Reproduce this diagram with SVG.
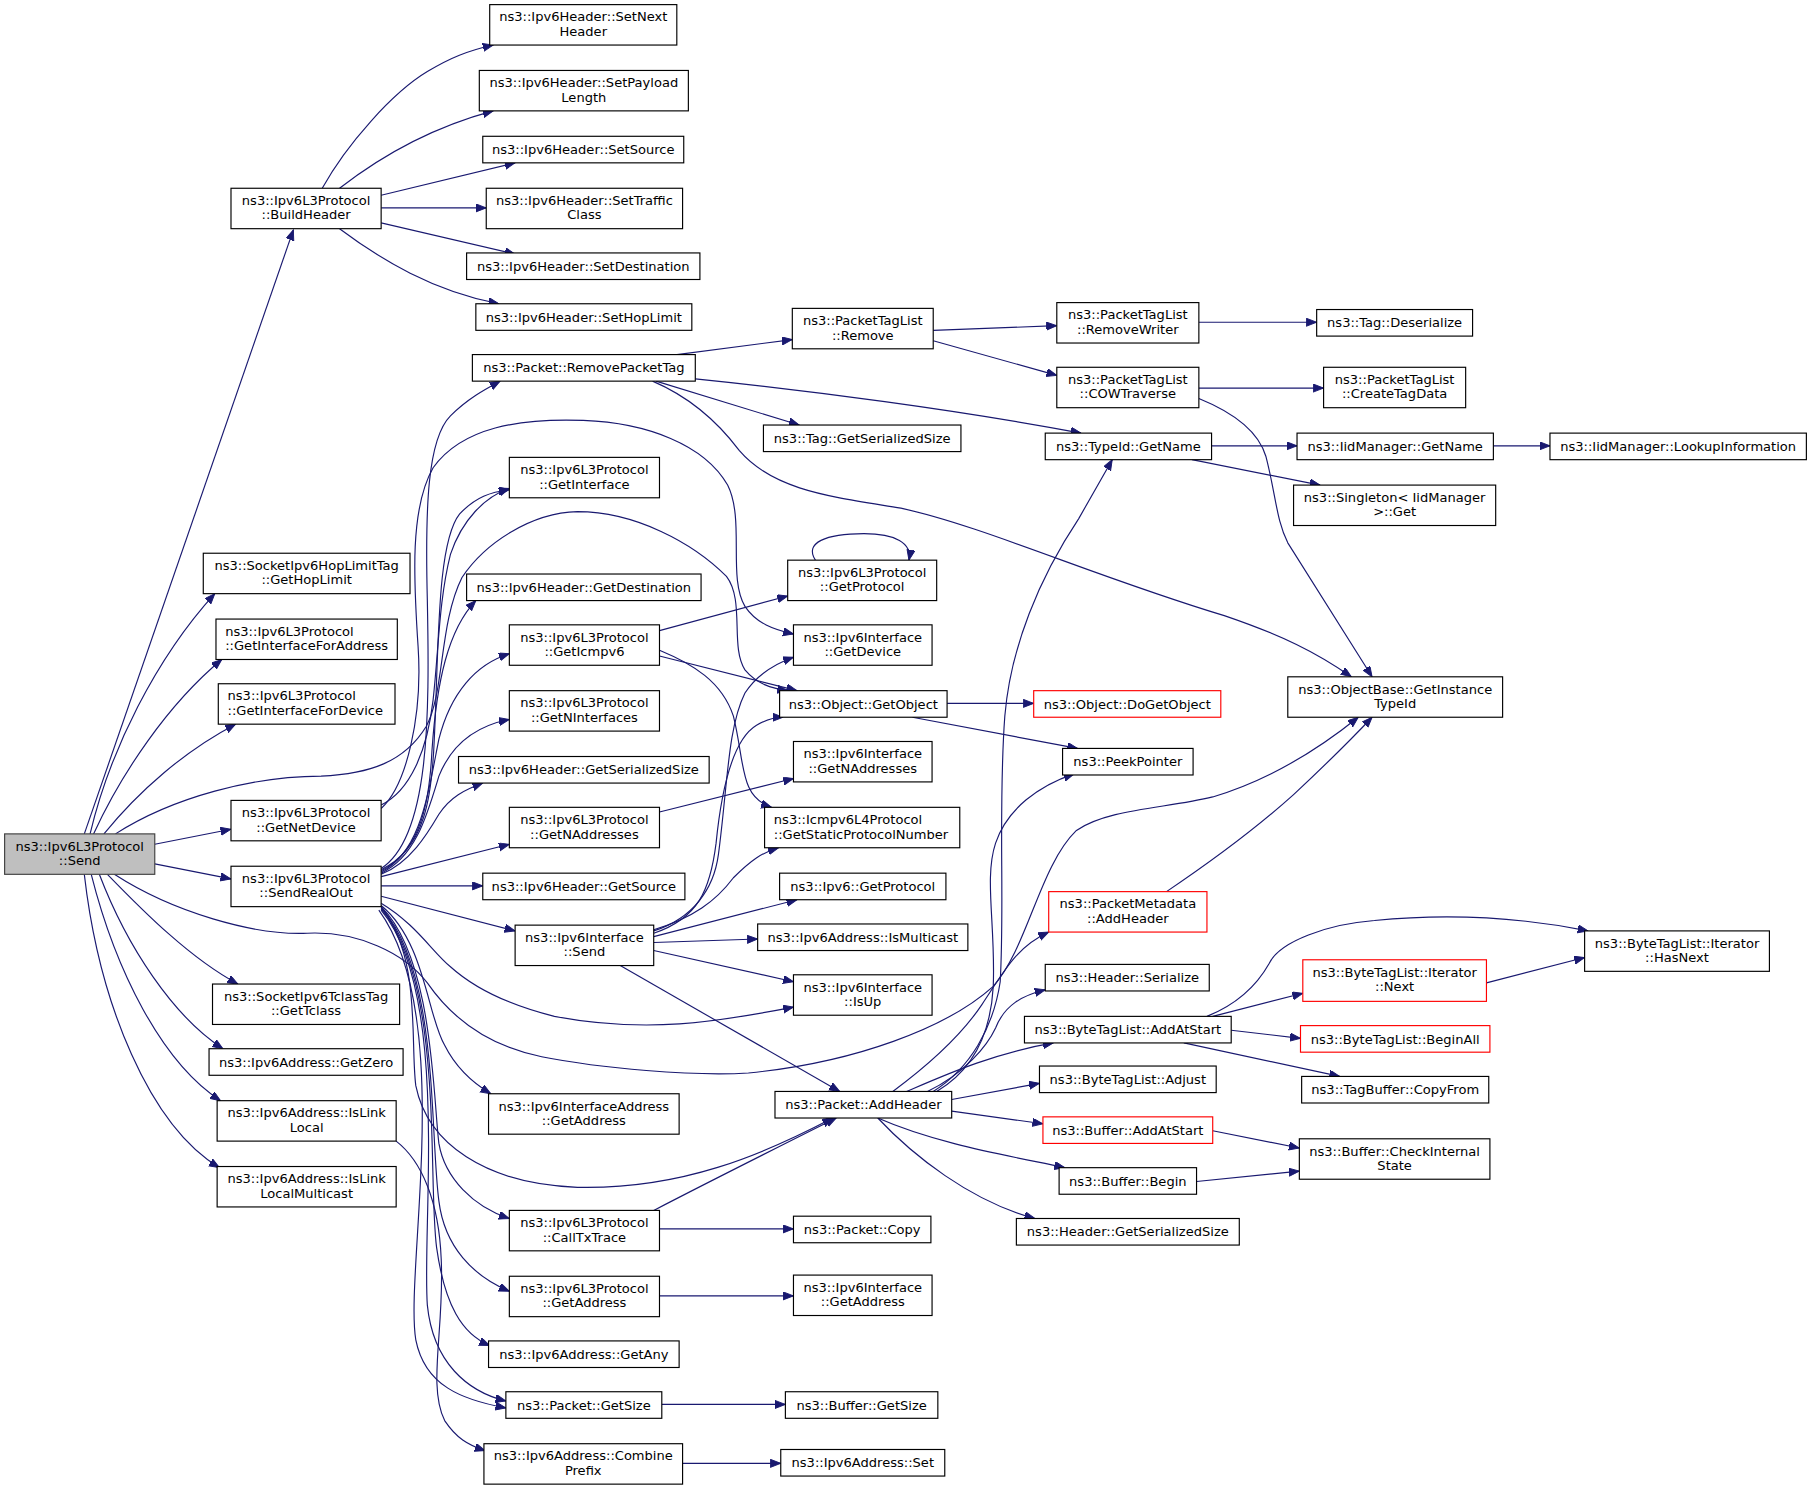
<svg xmlns="http://www.w3.org/2000/svg" width="1811" height="1489" viewBox="0 0 1811 1489">
<style>
.node rect{fill:#fff;stroke:#000;stroke-width:1}
.node rect.root{fill:#bfbfbf;stroke:#404040}
.node rect.red{stroke:#ff0000}
.node text{font-family:"DejaVu Sans","Liberation Sans",sans-serif;font-size:11.3px;fill:#000;text-anchor:middle}
.node text.l{text-anchor:start}
.edges path{fill:none;stroke:#191970;stroke-width:1;marker-end:url(#a)}
</style>
<defs>
<marker id="a" markerWidth="10" markerHeight="8" refX="9" refY="3.5" orient="auto" markerUnits="userSpaceOnUse">
<path d="M0,0 L9,3.5 L0,7 z" fill="#191970" stroke="#191970" stroke-width="0.8"/>
</marker>
</defs>
<rect x="0" y="0" width="1811" height="1489" fill="#fff"/>
<g transform="scale(1.15497)">
<g id="edges" class="edges">
<path d="M73,722 L254,199"/>
<path d="M279,163 C300,125 340,80 370,62 C390,50 405,44 427,39"/>
<path d="M294,163 C330,135 375,110 427,96"/>
<path d="M330,169 L446,141"/>
<path d="M330,180 L421,180"/>
<path d="M330,193 L446,220"/>
<path d="M294,198 C330,225 375,252 432,263"/>
<path d="M78,722 C95,650 135,570 186,514"/>
<path d="M81,722 C105,670 145,610 192,571"/>
<path d="M90,722 C120,685 160,650 204,627"/>
<path d="M100,722 C150,690 220,672 278,672 C320,670 350,660 369,629 C385,600 380,540 400,500 C420,470 460,444 500,443 C550,443 600,470 629,499 C645,520 632,560 645,580 C655,592 668,596 682,598"/>
<path d="M134,731 L200,718"/>
<path d="M134,748 L200,761"/>
<path d="M93,757 C125,790 165,830 206,852"/>
<path d="M86,757 C110,820 150,880 193,908"/>
<path d="M79,757 C100,840 140,920 191,953"/>
<path d="M73,757 C86,870 130,975 190,1011"/>
<path d="M99,757 C150,790 220,810 266,808 C310,806 350,825 370,851 C390,880 420,905 469,915 C520,925 600,932 648,929 C740,920 820,890 860,854 C890,820 900,750 932,719 C960,700 1010,700 1050,690 C1100,675 1140,650 1176,621"/>
<path d="M330,697 C355,685 370,650 375,606 C380,560 380,520 390,480 C400,450 420,430 441,423"/>
<path d="M330,700 C352,680 366,620 362,560 C358,500 355,440 375,405 C400,370 450,362 505,364 C560,366 610,385 630,420 C645,450 630,500 645,525 C655,540 670,545 687,549"/>
<path d="M330,752 C372,725 372,620 370,520 C368,440 370,380 390,360 C405,345 420,337 433,330"/>
<path d="M330,753 C368,735 374,690 376,640 C380,560 378,470 398,445 C412,430 425,426 441,424"/>
<path d="M330,754 C366,736 372,690 374,650 C378,590 388,545 412,520"/>
<path d="M330,755 C364,738 370,690 380,640 C390,600 412,575 441,566"/>
<path d="M330,756 C360,742 370,705 380,672 C392,642 415,628 441,623"/>
<path d="M330,757 C355,747 370,722 380,705 C390,690 402,684 418,678"/>
<path d="M330,759 L441,731"/>
<path d="M330,767 L418,767"/>
<path d="M330,776 L446,806"/>
<path d="M330,782 C360,800 375,825 390,837 C410,855 440,870 480,880 C560,895 620,885 687,872"/>
<path d="M330,784 C368,815 370,880 385,905 C395,925 410,938 425,947"/>
<path d="M330,785 C375,830 375,950 380,990 C385,1020 410,1045 441,1055"/>
<path d="M330,786 C380,840 372,980 380,1040 C385,1080 410,1105 441,1118"/>
<path d="M330,787 C385,850 370,1020 378,1080 C385,1130 400,1155 424,1165"/>
<path d="M330,788 C390,860 365,1060 370,1130 C375,1180 405,1205 438,1213"/>
<path d="M328,788 C395,880 350,1100 360,1160 C368,1200 400,1212 438,1219"/>
<path d="M330,785 C365,830 355,900 360,940 C370,990 420,1025 500,1028 C590,1030 660,1000 721,968"/>
<path d="M343,988 C365,1005 380,1040 382,1090 C385,1150 370,1200 385,1230 C395,1245 405,1251 420,1256"/>
<path d="M571,546 L682,516"/>
<path d="M571,568 L690,598"/>
<path d="M571,563 C600,575 625,590 635,620 C645,660 640,690 668,699"/>
<path d="M706,485 C696,470 715,462 748,462 C775,462 790,470 787,485"/>
<path d="M571,703 L687,674"/>
<path d="M566,806 C600,795 618,770 622,740 C630,680 630,630 645,600 C655,585 670,575 687,569"/>
<path d="M566,808 C605,795 615,770 620,730 C625,680 635,640 655,628 C665,622 672,621 678,621"/>
<path d="M566,805 C600,795 620,780 635,760 C650,745 660,738 674,734"/>
<path d="M566,811 L690,779"/>
<path d="M566,816 L656,813"/>
<path d="M566,823 L687,850"/>
<path d="M537,836 L727,945"/>
<path d="M571,1064 L687,1064"/>
<path d="M566,1048 C620,1020 680,990 724,968"/>
<path d="M571,1122 L687,1122"/>
<path d="M573,1216 L680,1216"/>
<path d="M591,1267 L676,1267"/>
<path d="M586,307 L686,294"/>
<path d="M568,330 L692,368"/>
<path d="M602,328 C700,338 830,355 936,375"/>
<path d="M565,330 C600,345 625,370 640,390 C670,425 720,430 780,440 C850,455 950,500 1060,533 C1110,550 1140,565 1170,586"/>
<path d="M808,286 L915,282"/>
<path d="M808,295 L915,325"/>
<path d="M1038,279 L1140,279"/>
<path d="M1038,336 L1146,336"/>
<path d="M1038,345 C1070,358 1090,375 1096,395 C1105,430 1105,450 1115,470 C1140,510 1165,550 1188,586"/>
<path d="M1049,386 L1123,386"/>
<path d="M1032,398 L1143,420"/>
<path d="M1293,386 L1342,386"/>
<path d="M820,609 L895,609"/>
<path d="M790,621 L933,648"/>
<path d="M808,945 C840,925 860,890 866,850 C870,780 864,700 870,620 C875,560 900,500 934,449 L963,398"/>
<path d="M811,945 C845,925 858,890 860,854 C862,800 852,760 862,730 C872,700 900,680 930,670"/>
<path d="M773,945 C800,925 830,900 850,870 C870,840 880,820 908,807"/>
<path d="M803,945 C835,930 855,905 862,890 C870,870 885,862 905,857"/>
<path d="M785,945 C820,930 860,912 912,903"/>
<path d="M824,952 L900,938"/>
<path d="M824,962 L903,973"/>
<path d="M760,968 C810,990 870,1000 922,1011"/>
<path d="M760,968 C790,1000 840,1040 896,1055"/>
<path d="M1010,772 C1050,745 1090,715 1120,688 C1150,660 1170,640 1188,621"/>
<path d="M1045,880 C1075,868 1090,850 1099,834 C1108,815 1150,800 1190,797 C1260,790 1320,795 1375,806"/>
<path d="M1050,880 L1128,860"/>
<path d="M1066,892 L1126,899"/>
<path d="M1025,903 L1160,932"/>
<path d="M1287,851 L1372,829"/>
<path d="M1050,979 L1125,994"/>
<path d="M1036,1023 L1125,1014"/>
</g>
<g id="n_send" class="node"><rect class="root" x="4" y="722" width="130" height="35"/><text x="69" y="736.5">ns3::Ipv6L3Protocol</text><text x="69" y="749">::Send</text></g>
<g id="n_buildheader" class="node"><rect x="200" y="163" width="130" height="35"/><text x="265" y="177.5">ns3::Ipv6L3Protocol</text><text x="265" y="190">::BuildHeader</text></g>
<g id="n_gethoplimit" class="node"><rect x="176" y="479" width="179" height="35"/><text x="265.5" y="493.5">ns3::SocketIpv6HopLimitTag</text><text x="265.5" y="506">::GetHopLimit</text></g>
<g id="n_getifaddr" class="node"><rect x="187" y="536" width="157" height="35"/><text class="l" x="195" y="550.5">ns3::Ipv6L3Protocol</text><text class="l" x="195" y="563">::GetInterfaceForAddress</text></g>
<g id="n_getifdev" class="node"><rect x="189" y="592" width="153" height="35"/><text class="l" x="197" y="606.5">ns3::Ipv6L3Protocol</text><text class="l" x="197" y="619">::GetInterfaceForDevice</text></g>
<g id="n_getnetdevice" class="node"><rect x="200" y="693" width="130" height="35"/><text x="265" y="707.5">ns3::Ipv6L3Protocol</text><text x="265" y="720">::GetNetDevice</text></g>
<g id="n_sendrealout" class="node"><rect x="200" y="750" width="130" height="35"/><text x="265" y="764.5">ns3::Ipv6L3Protocol</text><text x="265" y="777">::SendRealOut</text></g>
<g id="n_gettclass" class="node"><rect x="184" y="852" width="162" height="35"/><text x="265" y="866.5">ns3::SocketIpv6TclassTag</text><text x="265" y="879">::GetTclass</text></g>
<g id="n_getzero" class="node"><rect x="181" y="908" width="168" height="23"/><text x="265" y="923.5">ns3::Ipv6Address::GetZero</text></g>
<g id="n_islinklocal" class="node"><rect x="188" y="953" width="155" height="35"/><text x="265.5" y="967.5">ns3::Ipv6Address::IsLink</text><text x="265.5" y="980">Local</text></g>
<g id="n_islinklocalmc" class="node"><rect x="188" y="1010" width="155" height="35"/><text x="265.5" y="1024.5">ns3::Ipv6Address::IsLink</text><text x="265.5" y="1037">LocalMulticast</text></g>
<g id="n_setnextheader" class="node"><rect x="424" y="4" width="162" height="35"/><text x="505" y="18.5">ns3::Ipv6Header::SetNext</text><text x="505" y="31">Header</text></g>
<g id="n_setpayload" class="node"><rect x="415" y="61" width="181" height="35"/><text x="505.5" y="75.5">ns3::Ipv6Header::SetPayload</text><text x="505.5" y="88">Length</text></g>
<g id="n_setsource" class="node"><rect x="418" y="118" width="174" height="23"/><text x="505" y="133.5">ns3::Ipv6Header::SetSource</text></g>
<g id="n_settraffic" class="node"><rect x="421" y="163" width="170" height="35"/><text x="506" y="177.5">ns3::Ipv6Header::SetTraffic</text><text x="506" y="190">Class</text></g>
<g id="n_setdest" class="node"><rect x="404" y="219" width="202" height="23"/><text x="505" y="234.5">ns3::Ipv6Header::SetDestination</text></g>
<g id="n_sethoplimit" class="node"><rect x="412" y="263" width="187" height="23"/><text x="505.5" y="278.5">ns3::Ipv6Header::SetHopLimit</text></g>
<g id="n_removepackettag" class="node"><rect x="409" y="307" width="193" height="23"/><text x="505.5" y="322.5">ns3::Packet::RemovePacketTag</text></g>
<g id="n_getinterface" class="node"><rect x="441" y="396" width="130" height="35"/><text x="506" y="410.5">ns3::Ipv6L3Protocol</text><text x="506" y="423">::GetInterface</text></g>
<g id="n_getdest" class="node"><rect x="404" y="497" width="203" height="23"/><text x="505.5" y="512.5">ns3::Ipv6Header::GetDestination</text></g>
<g id="n_geticmpv6" class="node"><rect x="441" y="541" width="130" height="35"/><text x="506" y="555.5">ns3::Ipv6L3Protocol</text><text x="506" y="568">::GetIcmpv6</text></g>
<g id="n_getninterfaces" class="node"><rect x="441" y="598" width="130" height="35"/><text x="506" y="612.5">ns3::Ipv6L3Protocol</text><text x="506" y="625">::GetNInterfaces</text></g>
<g id="n_hdrgetsersize" class="node"><rect x="397" y="655" width="217" height="23"/><text x="505.5" y="670.5">ns3::Ipv6Header::GetSerializedSize</text></g>
<g id="n_getnaddresses" class="node"><rect x="441" y="699" width="130" height="35"/><text x="506" y="713.5">ns3::Ipv6L3Protocol</text><text x="506" y="726">::GetNAddresses</text></g>
<g id="n_getsource" class="node"><rect x="418" y="756" width="175" height="23"/><text x="505.5" y="771.5">ns3::Ipv6Header::GetSource</text></g>
<g id="n_ifsend" class="node"><rect x="446" y="801" width="120" height="35"/><text x="506" y="815.5">ns3::Ipv6Interface</text><text x="506" y="828">::Send</text></g>
<g id="n_ifaddrgetaddr" class="node"><rect x="423" y="947" width="165" height="35"/><text x="505.5" y="961.5">ns3::Ipv6InterfaceAddress</text><text x="505.5" y="974">::GetAddress</text></g>
<g id="n_calltxtrace" class="node"><rect x="441" y="1048" width="130" height="35"/><text x="506" y="1062.5">ns3::Ipv6L3Protocol</text><text x="506" y="1075">::CallTxTrace</text></g>
<g id="n_getaddress" class="node"><rect x="441" y="1105" width="130" height="35"/><text x="506" y="1119.5">ns3::Ipv6L3Protocol</text><text x="506" y="1132">::GetAddress</text></g>
<g id="n_getany" class="node"><rect x="423" y="1161" width="165" height="23"/><text x="505.5" y="1176.5">ns3::Ipv6Address::GetAny</text></g>
<g id="n_getsize" class="node"><rect x="438" y="1205" width="135" height="23"/><text x="505.5" y="1220.5">ns3::Packet::GetSize</text></g>
<g id="n_combineprefix" class="node"><rect x="419" y="1250" width="172" height="35"/><text x="505" y="1264.5">ns3::Ipv6Address::Combine</text><text x="505" y="1277">Prefix</text></g>
<g id="n_ptlremove" class="node"><rect x="686" y="267" width="122" height="35"/><text x="747" y="281.5">ns3::PacketTagList</text><text x="747" y="294">::Remove</text></g>
<g id="n_taggetsersize" class="node"><rect x="661" y="368" width="171" height="23"/><text x="746.5" y="383.5">ns3::Tag::GetSerializedSize</text></g>
<g id="n_getprotocol" class="node"><rect x="682" y="485" width="129" height="35"/><text x="746.5" y="499.5">ns3::Ipv6L3Protocol</text><text x="746.5" y="512">::GetProtocol</text></g>
<g id="n_getdevice" class="node"><rect x="687" y="541" width="120" height="35"/><text x="747" y="555.5">ns3::Ipv6Interface</text><text x="747" y="568">::GetDevice</text></g>
<g id="n_getobject" class="node"><rect x="675" y="598" width="145" height="23"/><text x="747.5" y="613.5">ns3::Object::GetObject</text></g>
<g id="n_ifgetnaddr" class="node"><rect x="687" y="642" width="120" height="35"/><text x="747" y="656.5">ns3::Ipv6Interface</text><text x="747" y="669">::GetNAddresses</text></g>
<g id="n_getstaticproto" class="node"><rect x="662" y="699" width="169" height="35"/><text class="l" x="670" y="713.5">ns3::Icmpv6L4Protocol</text><text class="l" x="670" y="726">::GetStaticProtocolNumber</text></g>
<g id="n_ipv6getproto" class="node"><rect x="675" y="756" width="144" height="23"/><text x="747" y="771.5">ns3::Ipv6::GetProtocol</text></g>
<g id="n_ismulticast" class="node"><rect x="656" y="800" width="182" height="23"/><text x="747" y="815.5">ns3::Ipv6Address::IsMulticast</text></g>
<g id="n_isup" class="node"><rect x="687" y="844" width="120" height="35"/><text x="747" y="858.5">ns3::Ipv6Interface</text><text x="747" y="871">::IsUp</text></g>
<g id="n_addheader" class="node"><rect x="671" y="945" width="153" height="23"/><text x="747.5" y="960.5">ns3::Packet::AddHeader</text></g>
<g id="n_copy" class="node"><rect x="687" y="1053" width="119" height="23"/><text x="746.5" y="1068.5">ns3::Packet::Copy</text></g>
<g id="n_ifgetaddr" class="node"><rect x="687" y="1104" width="120" height="35"/><text x="747" y="1118.5">ns3::Ipv6Interface</text><text x="747" y="1131">::GetAddress</text></g>
<g id="n_buffergetsize" class="node"><rect x="680" y="1205" width="132" height="23"/><text x="746" y="1220.5">ns3::Buffer::GetSize</text></g>
<g id="n_set" class="node"><rect x="676" y="1255" width="142" height="23"/><text x="747" y="1270.5">ns3::Ipv6Address::Set</text></g>
<g id="n_removewriter" class="node"><rect x="915" y="262" width="123" height="35"/><text x="976.5" y="276.5">ns3::PacketTagList</text><text x="976.5" y="289">::RemoveWriter</text></g>
<g id="n_cowtraverse" class="node"><rect x="915" y="318" width="123" height="35"/><text x="976.5" y="332.5">ns3::PacketTagList</text><text x="976.5" y="345">::COWTraverse</text></g>
<g id="n_typeidgetname" class="node"><rect x="905" y="375" width="144" height="23"/><text x="977" y="390.5">ns3::TypeId::GetName</text></g>
<g id="n_dogetobject" class="node"><rect class="red" x="895" y="598" width="162" height="23"/><text x="976" y="613.5">ns3::Object::DoGetObject</text></g>
<g id="n_peekpointer" class="node"><rect x="920" y="648" width="113" height="23"/><text x="976.5" y="663.5">ns3::PeekPointer</text></g>
<g id="n_pmaddheader" class="node"><rect class="red" x="908" y="772" width="137" height="35"/><text x="976.5" y="786.5">ns3::PacketMetadata</text><text x="976.5" y="799">::AddHeader</text></g>
<g id="n_serialize" class="node"><rect x="905" y="835" width="142" height="23"/><text x="976" y="850.5">ns3::Header::Serialize</text></g>
<g id="n_btladdatstart" class="node"><rect x="887" y="880" width="179" height="23"/><text x="976.5" y="895.5">ns3::ByteTagList::AddAtStart</text></g>
<g id="n_adjust" class="node"><rect x="900" y="923" width="153" height="23"/><text x="976.5" y="938.5">ns3::ByteTagList::Adjust</text></g>
<g id="n_bufaddatstart" class="node"><rect class="red" x="903" y="967" width="147" height="23"/><text x="976.5" y="982.5">ns3::Buffer::AddAtStart</text></g>
<g id="n_begin" class="node"><rect x="917" y="1011" width="119" height="23"/><text x="976.5" y="1026.5">ns3::Buffer::Begin</text></g>
<g id="n_hdrgetsersize2" class="node"><rect x="880" y="1055" width="193" height="23"/><text x="976.5" y="1070.5">ns3::Header::GetSerializedSize</text></g>
<g id="n_deserialize" class="node"><rect x="1140" y="268" width="135" height="23"/><text x="1207.5" y="283.5">ns3::Tag::Deserialize</text></g>
<g id="n_createtagdata" class="node"><rect x="1146" y="318" width="123" height="35"/><text x="1207.5" y="332.5">ns3::PacketTagList</text><text x="1207.5" y="345">::CreateTagData</text></g>
<g id="n_iidgetname" class="node"><rect x="1123" y="375" width="170" height="23"/><text x="1208" y="390.5">ns3::IidManager::GetName</text></g>
<g id="n_singleton" class="node"><rect x="1120" y="420" width="175" height="35"/><text x="1207.5" y="434.5">ns3::Singleton&lt; IidManager</text><text x="1207.5" y="447">&gt;::Get</text></g>
<g id="n_getinstancetypeid" class="node"><rect x="1115" y="586" width="186" height="35"/><text x="1208" y="600.5">ns3::ObjectBase::GetInstance</text><text x="1208" y="613">TypeId</text></g>
<g id="n_next" class="node"><rect class="red" x="1128" y="831" width="159" height="36"/><text x="1207.5" y="845.5">ns3::ByteTagList::Iterator</text><text x="1207.5" y="858">::Next</text></g>
<g id="n_beginall" class="node"><rect class="red" x="1126" y="888" width="164" height="23"/><text x="1208" y="903.5">ns3::ByteTagList::BeginAll</text></g>
<g id="n_copyfrom" class="node"><rect x="1127" y="932" width="162" height="23"/><text x="1208" y="947.5">ns3::TagBuffer::CopyFrom</text></g>
<g id="n_checkinternal" class="node"><rect x="1125" y="986" width="165" height="35"/><text x="1207.5" y="1000.5">ns3::Buffer::CheckInternal</text><text x="1207.5" y="1013">State</text></g>
<g id="n_lookup" class="node"><rect x="1342" y="375" width="222" height="23"/><text x="1453" y="390.5">ns3::IidManager::LookupInformation</text></g>
<g id="n_hasnext" class="node"><rect x="1372" y="806" width="160" height="35"/><text x="1452" y="820.5">ns3::ByteTagList::Iterator</text><text x="1452" y="833">::HasNext</text></g>
</g>
</svg>
